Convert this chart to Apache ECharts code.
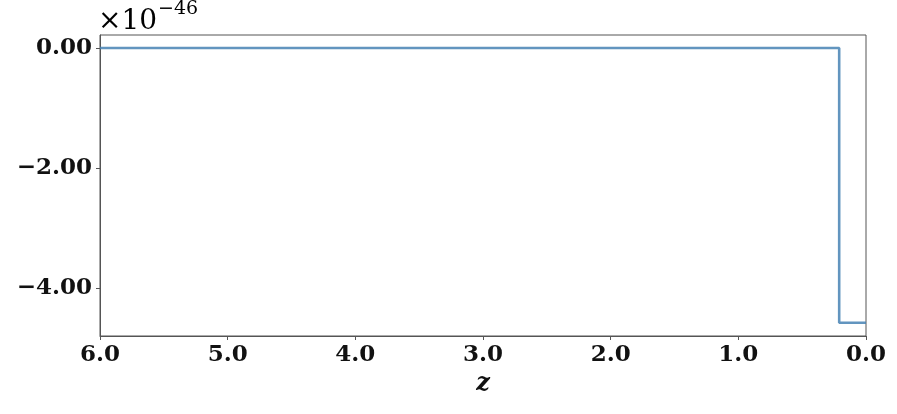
<!DOCTYPE html>
<html>
<head>
<meta charset="utf-8">
<script src="https://cdn.jsdelivr.net/npm/echarts@6/dist/echarts.min.js"></script>
<style>
  html, body { margin: 0; padding: 0; background: #fff; }
  #chart { width: 897px; height: 414px; }
</style>
</head>
<body>
<div id="chart"></div>
<script>
// Step curve: flat at zero, then drops near z = 0.21 (units of 1e-46)
const zValues = [6.0, 0.21, 0.21, 0.0];
const yValues = [0.0, 0.0, -4.58, -4.58];
const yTicks = [-4, -2, 0];

const FONT = 'DejaVu Serif';
const lineColor = '#4682b4';

const chart = echarts.init(document.getElementById('chart'));

chart.setOption({
  animation: false,
  grid: {
    left: 100, right: 31, top: 35, bottom: 78,
    show: true, borderColor: '#555', borderWidth: 1
  },
  xAxis: {
    type: 'value',
    inverse: true,
    min: 0, max: 6, interval: 1,
    name: 'z',
    nameLocation: 'middle',
    nameGap: 34,
    nameTextStyle: { fontFamily: FONT, fontStyle: 'italic', fontWeight: 'bold', fontSize: 24, color: '#111' },
    axisLine: { onZero: false, lineStyle: { color: '#555' } },
    axisTick: { length: 4, lineStyle: { color: '#555' } },
    axisLabel: {
      fontFamily: FONT, fontWeight: 'bold', fontSize: 23, color: '#111', margin: 8,
      formatter: v => v.toFixed(1)
    },
    splitLine: { show: false }
  },
  yAxis: {
    type: 'value',
    min: -4.8, max: 0.217,
    axisLine: { show: true, onZero: false, lineStyle: { color: '#555' } },
    axisTick: { show: true, length: 4, customValues: yTicks, lineStyle: { color: '#555' } },
    axisLabel: {
      fontFamily: FONT, fontWeight: 'bold', fontSize: 23, color: '#111', margin: 8,
      customValues: yTicks,
      formatter: v => (v < 0 ? '\u2212' : '') + Math.abs(v).toFixed(2)
    },
    splitLine: { show: false }
  },
  graphic: [{
    type: 'text',
    left: 98, top: 0,
    style: {
      text: '{a|\u00d710}{b|\u221246}',
      rich: {
        a: { fontFamily: FONT, fontSize: 28, color: '#111', verticalAlign: 'bottom', lineHeight: 36 },
        b: { fontFamily: FONT, fontSize: 19, color: '#111', verticalAlign: 'top', lineHeight: 36, padding: [0, 0, 14, 1] }
      }
    }
  }],
  series: [{
    type: 'line',
    data: zValues.map((z, i) => [z, yValues[i]]),
    showSymbol: false,
    lineStyle: { color: lineColor, width: 2.6, opacity: 0.85 },
    itemStyle: { color: lineColor }
  }]
});
</script>
</body>
</html>
